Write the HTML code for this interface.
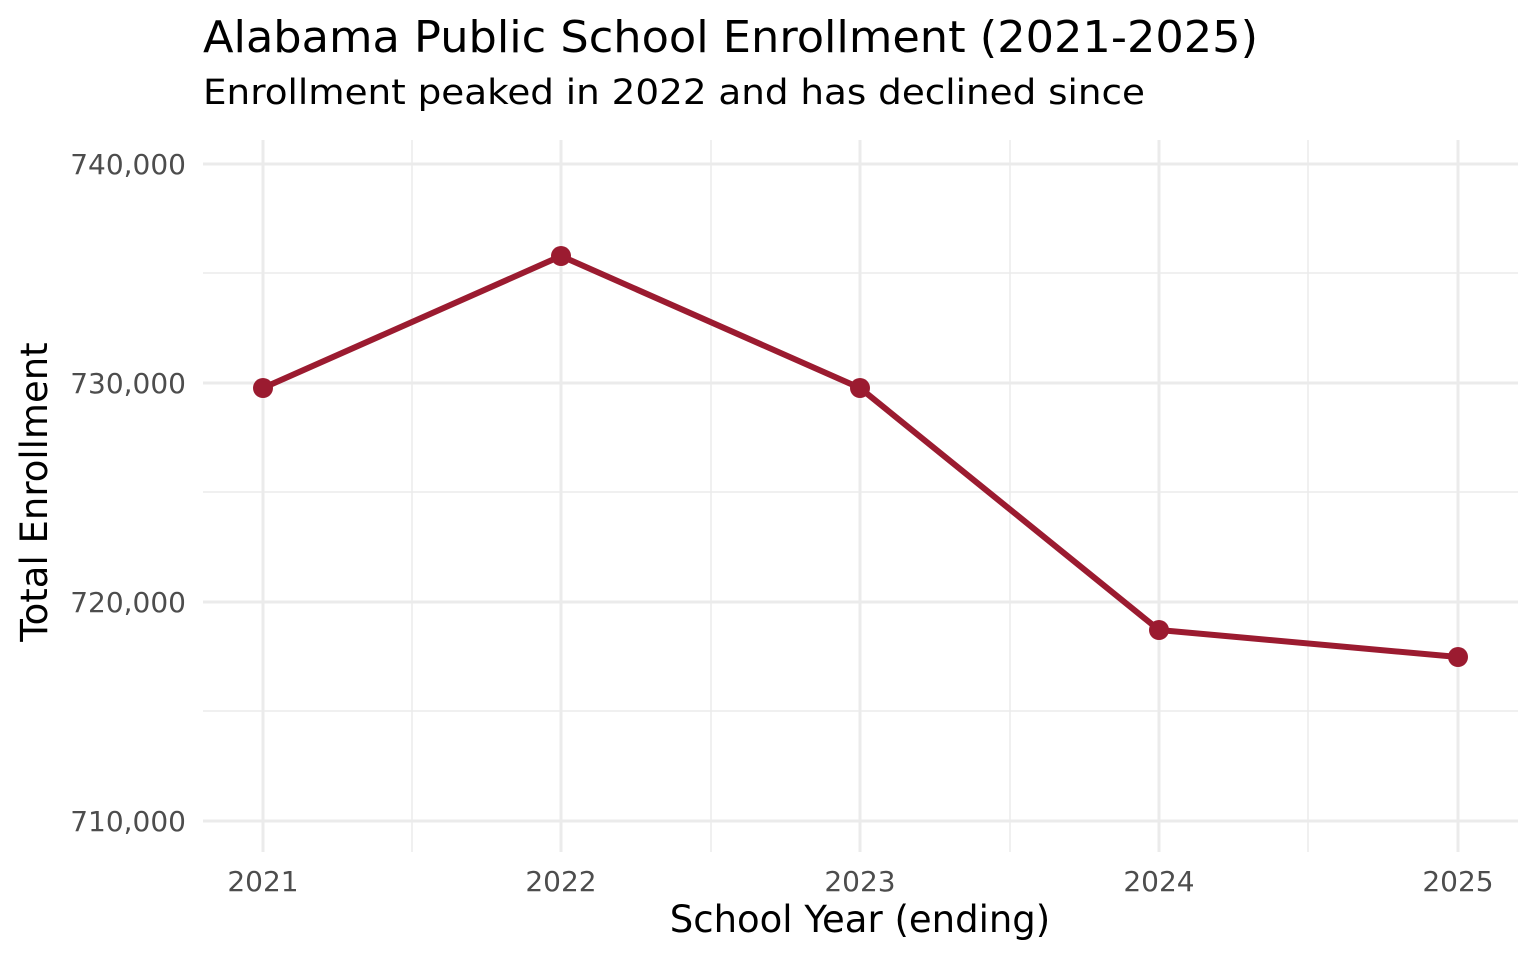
<!DOCTYPE html>
<html><head><meta charset="utf-8"><style>html,body{margin:0;padding:0;background:#fff}svg{display:block}</style></head>
<body>
<svg width="1536" height="960" xmlns="http://www.w3.org/2000/svg" font-family="'DejaVu Sans','Liberation Sans',sans-serif">
<rect width="1536" height="960" fill="#fff"/>
<g stroke="#ebebeb" stroke-width="1.5">
<line x1="203" x2="1518" y1="273" y2="273"/><line x1="203" x2="1518" y1="492" y2="492"/><line x1="203" x2="1518" y1="711" y2="711"/>
<line y1="140" y2="852" x1="412" x2="412"/><line y1="140" y2="852" x1="711" x2="711"/><line y1="140" y2="852" x1="1010" x2="1010"/><line y1="140" y2="852" x1="1308" x2="1308"/>
</g>
<g stroke="#ebebeb" stroke-width="3">
<line x1="203" x2="1518" y1="164" y2="164"/><line x1="203" x2="1518" y1="383" y2="383"/><line x1="203" x2="1518" y1="602" y2="602"/><line x1="203" x2="1518" y1="821" y2="821"/>
<line y1="140" y2="852" x1="263" x2="263"/><line y1="140" y2="852" x1="561" x2="561"/><line y1="140" y2="852" x1="860" x2="860"/><line y1="140" y2="852" x1="1159" x2="1159"/><line y1="140" y2="852" x1="1458" x2="1458"/>
</g>
<polyline points="263,388 561,256 860,388 1159,630 1458,657" fill="none" stroke="#9b1b30" stroke-width="6" stroke-linejoin="round"/>
<g fill="#9b1b30"><circle cx="263" cy="388" r="10"/><circle cx="561" cy="256" r="10"/><circle cx="860" cy="388" r="10"/><circle cx="1159" cy="630" r="10"/><circle cx="1458" cy="657" r="10"/></g>
<g fill="#4d4d4d" font-size="28" text-anchor="end">
<text x="186" y="174">740,000</text><text x="186" y="393">730,000</text><text x="186" y="612">720,000</text><text x="186" y="831">710,000</text>
</g>
<g fill="#4d4d4d" font-size="28" text-anchor="middle">
<text x="263" y="891">2021</text><text x="561" y="891">2022</text><text x="860" y="891">2023</text><text x="1159" y="891">2024</text><text x="1458" y="891">2025</text>
</g>
<text x="860" y="932" font-size="37" text-anchor="middle" fill="#000">School Year (ending)</text>
<text transform="translate(47,492) rotate(-90)" font-size="37" text-anchor="middle" fill="#000">Total Enrollment</text>
<text x="203" y="52" font-size="44" fill="#000" textLength="1055" lengthAdjust="spacingAndGlyphs">Alabama Public School Enrollment (2021-2025)</text>
<text x="203" y="104" font-size="35" fill="#000" textLength="942" lengthAdjust="spacingAndGlyphs">Enrollment peaked in 2022 and has declined since</text>
</svg>
</body></html>
